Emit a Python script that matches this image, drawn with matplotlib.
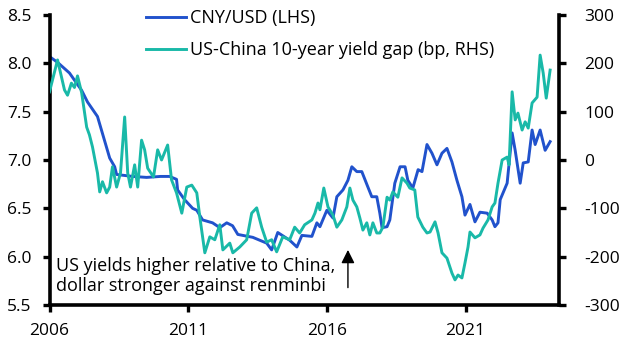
import matplotlib
matplotlib.use("Agg")
import matplotlib.pyplot as plt

plt.rcParams["font.family"] = ["Open Sans", "DejaVu Sans"]

# CNY/USD, left axis (decimal year, value)
cny_t = [2006.0, 2006.29, 2006.72, 2007.16, 2007.37, 2007.73, 2008.17, 2008.35, 2008.42,
         2009.0, 2009.5, 2010.0, 2010.33, 2010.58, 2010.62, 2010.87, 2011.16, 2011.31,
         2011.52, 2011.88, 2012.14, 2012.39, 2012.6, 2012.79, 2013.33, 2013.83, 2014.01,
         2014.23, 2014.66, 2014.92, 2015.1, 2015.46, 2015.64, 2015.75, 2016.0, 2016.22,
         2016.36, 2016.58, 2016.76, 2016.9, 2017.08, 2017.26, 2017.48, 2017.62, 2017.8,
         2017.91, 2017.99, 2018.17, 2018.27, 2018.45, 2018.64, 2018.82, 2018.92, 2019.1,
         2019.29, 2019.43, 2019.61, 2019.79, 2019.97, 2020.15, 2020.33, 2020.51, 2020.69,
         2020.87, 2020.98, 2021.16, 2021.34, 2021.52, 2021.78, 2021.96, 2022.06, 2022.17,
         2022.25, 2022.5, 2022.68, 2022.79, 2022.97, 2023.08, 2023.26, 2023.4, 2023.51,
         2023.69, 2023.87, 2024.05]
cny_v = [8.07, 8.01, 7.90, 7.72, 7.60, 7.45, 7.02, 6.93, 6.85,
         6.83, 6.82, 6.83, 6.83, 6.80, 6.69, 6.59, 6.50, 6.48,
         6.38, 6.35, 6.30, 6.35, 6.32, 6.23, 6.20, 6.14, 6.07,
         6.25, 6.17, 6.10, 6.22, 6.21, 6.35, 6.31, 6.48, 6.40,
         6.62, 6.69, 6.79, 6.93, 6.88, 6.88, 6.72, 6.62, 6.62,
         6.45, 6.30, 6.31, 6.38, 6.76, 6.93, 6.93, 6.79, 6.71,
         6.90, 6.88, 7.16, 7.07, 6.95, 7.07, 7.12, 6.98, 6.79,
         6.62, 6.43, 6.54, 6.36, 6.46, 6.45, 6.38, 6.31, 6.35,
         6.59, 6.76, 7.28, 7.10, 6.76, 6.97, 6.98, 7.31, 7.16,
         7.31, 7.10, 7.19]

# US-China 10-year yield gap in bp, right axis
gap_t = [2006.0, 2006.29, 2006.54, 2006.65, 2006.79, 2006.9, 2007.01, 2007.16, 2007.34,
         2007.44, 2007.55, 2007.62, 2007.73, 2007.81, 2007.91, 2008.06, 2008.17, 2008.27,
         2008.42, 2008.56, 2008.71, 2008.82, 2008.92, 2009.07, 2009.18, 2009.32, 2009.43,
         2009.54, 2009.75, 2009.9, 2010.04, 2010.26, 2010.4, 2010.58, 2010.77, 2010.95,
         2011.13, 2011.31, 2011.42, 2011.6, 2011.78, 2011.96, 2012.14, 2012.25, 2012.5,
         2012.61, 2012.86, 2013.11, 2013.29, 2013.47, 2013.65, 2013.83, 2014.01, 2014.19,
         2014.41, 2014.66, 2014.84, 2015.02, 2015.2, 2015.46, 2015.57, 2015.68, 2015.75,
         2015.89, 2016.04, 2016.22, 2016.36, 2016.54, 2016.72, 2016.83, 2016.94, 2017.08,
         2017.19, 2017.3, 2017.44, 2017.55, 2017.66, 2017.8, 2017.91, 2018.02, 2018.17,
         2018.27, 2018.38, 2018.56, 2018.71, 2018.89, 2018.99, 2019.17, 2019.28, 2019.46,
         2019.61, 2019.72, 2019.9, 2020.01, 2020.15, 2020.33, 2020.51, 2020.62, 2020.73,
         2020.87, 2020.98, 2021.09, 2021.16, 2021.34, 2021.52, 2021.63, 2021.81, 2021.96,
         2022.06, 2022.17, 2022.32, 2022.5, 2022.57, 2022.68, 2022.79, 2022.89, 2023.04,
         2023.15, 2023.26, 2023.4, 2023.58, 2023.69, 2023.8, 2023.91, 2024.05]
gap_v = [141, 207, 145, 134, 159, 150, 174, 139, 68,
         52, 27, 6, -27, -66, -45, -68, -56, -14,
         -56, -27, 89, -27, -56, -10, -56, 41, 21,
         -17, -35, 21, 0, 31, -41, -68, -110, -56,
         -52, -68, -118, -192, -159, -165, -134, -186, -172,
         -192, -180, -165, -110, -99, -139, -170, -165, -190,
         -159, -165, -139, -151, -134, -124, -110, -89, -103,
         -58, -97, -114, -139, -124, -97, -58, -83, -97,
         -120, -145, -130, -155, -130, -151, -151, -139, -77,
         -83, -66, -77, -37, -48, -58, -62, -118, -139,
         -151, -149, -128, -151, -192, -203, -234, -248, -238,
         -244, -213, -180, -149, -161, -155, -141, -124, -97,
         -89, -48, 0, 6, -10, 141, 83, 97, 62,
         79, 66, 118, 130, 217, 180, 128, 186]

year_ticks = [2006, 2011, 2016, 2021]
left_ticks = [5.5, 6.0, 6.5, 7.0, 7.5, 8.0, 8.5]
right_ticks = [-300, -200, -100, 0, 100, 200, 300]

blue = "#2152CC"
teal = "#19B9A8"

fig = plt.figure(figsize=(6.27, 3.55), dpi=100)
ax = fig.add_axes([49.5 / 627, 1 - 305 / 355, 509.5 / 627, 290 / 355])
ax2 = ax.twinx()

ax.plot(cny_t, cny_v, color=blue, lw=2.1, label="CNY/USD (LHS)")
ax2.plot(gap_t, gap_v, color=teal, lw=2.1, label="US-China 10-year yield gap (bp, RHS)")

ax.set_xlim(2006, 2024.37)
ax.set_ylim(5.5, 8.5)
ax2.set_ylim(-300, 300)
ax.set_xticks(year_ticks)
ax.set_xticklabels([str(y) for y in year_ticks])
ax.set_yticks(left_ticks)
ax.set_yticklabels([f"{v:.1f}" for v in left_ticks])
ax2.set_yticks(right_ticks)
ax2.set_yticklabels([str(v) for v in right_ticks])

for a in (ax, ax2):
    a.spines["top"].set_visible(False)
    for s in ("left", "right", "bottom"):
        a.spines[s].set_linewidth(2.6)
    a.tick_params(labelsize=12.5, width=2.4, length=5, direction="out")
ax.spines["right"].set_visible(False)
ax2.spines["left"].set_visible(False)
ax2.spines["bottom"].set_visible(False)
ax.tick_params(axis="y", pad=8)
ax.tick_params(axis="x", pad=8)
ax2.tick_params(axis="y", pad=13)

h1, l1 = ax.get_legend_handles_labels()
h2, l2 = ax2.get_legend_handles_labels()
ax2.legend(h1 + h2, l1 + l2, loc="upper left", bbox_to_anchor=(0.158, 1.075),
           frameon=False, fontsize=13, handlelength=2.2, handletextpad=0.25,
           labelspacing=0.75)

ax.text(2006.25, 5.8, "US yields higher relative to China,\ndollar stronger against renminbi",
        fontsize=13, va="center", ha="left", linespacing=1.1)
ax.annotate("", xy=(2016.76, 6.07), xytext=(2016.76, 5.68),
            arrowprops=dict(arrowstyle="-|>", color="black", lw=1.0,
                            mutation_scale=20, shrinkA=0, shrinkB=0))

fig.savefig("out.png", dpi=100)
